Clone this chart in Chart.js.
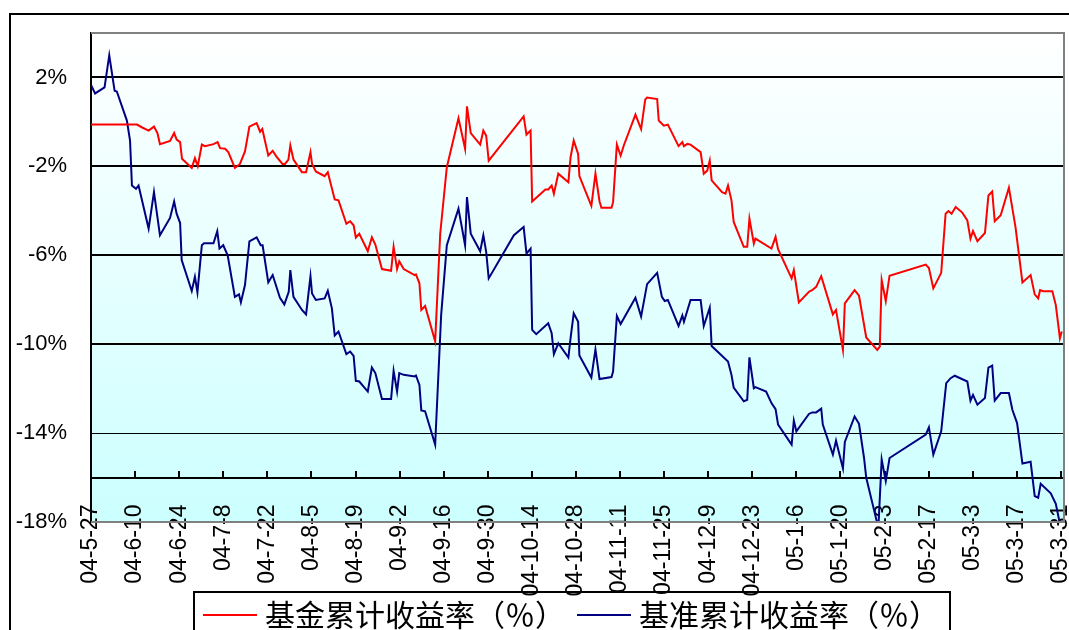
<!DOCTYPE html>
<html>
<head>
<meta charset="utf-8">
<script src="https://cdn.jsdelivr.net/npm/chart.js@4/dist/chart.umd.min.js"></script>
<style>
  body { margin: 0; background: #fff; }
</style>
</head>
<body>
<canvas id="myLineChart" width="1069" height="630"></canvas>
<script>

// x axis: days counted from 2004-05-27, one label every 14 days
const tickDays = [0, 14, 28, 42, 56, 70, 84, 98, 112, 126, 140, 154, 168, 182, 196, 210, 224, 238, 252, 266, 280, 294, 308];
const tickLabels = ['04-5-27', '04-6-10', '04-6-24', '04-7-8', '04-7-22', '04-8-5', '04-8-19', '04-9-2', '04-9-16', '04-9-30',
    '04-10-14', '04-10-28', '04-11-11', '04-11-25', '04-12-9', '04-12-23', '05-1-6', '05-1-20', '05-2-3', '05-2-17',
    '05-3-3', '05-3-17', '05-3-31'];

const yTicks = [-18, -14, -10, -6, -2, 2];

const seriesNames = ['基金累计收益率（％）', '基准累计收益率（％）'];
const seriesColors = ['#ff0000', '#000080'];

// 基金累计收益率
const fundDays = [0, 14.6, 16.1, 18.3, 20.0, 21.1, 21.9, 25.1, 26.4, 27.2, 28.3, 28.9, 32.0, 33.0, 33.9, 35.2, 36.2, 38.9, 40.2, 41.0,
    42.6, 43.6, 45.7, 47.3, 48.9, 50.3, 52.6, 53.7, 54.4, 56.3, 57.7, 58.9, 60.8, 61.6, 62.7, 63.3, 64.3, 67.0, 68.3, 69.7,
    70.2, 71.4, 74.2, 75.2, 77.4, 78.6, 81.1, 82.3, 83.4, 84.1, 85.2, 87.9, 89.2, 90.3, 92.4, 95.3, 96.1, 97.2, 97.9, 99.3,
    102.8, 103.2, 104.3, 104.9, 106.1, 109.3, 110.9, 113.0, 116.7, 118.8, 119.4, 120.6, 123.6, 124.6, 125.5, 126.3, 137.4, 138.3, 139.6, 140.1,
    144.3, 145.2, 146.3, 147.0, 148.4, 151.6, 152.3, 153.3, 154.7, 155.1, 158.9, 160.2, 161.5, 162.1, 165.3, 165.8, 167.0, 168.2, 169.2, 172.9,
    174.7, 176.0, 176.6, 179.8, 180.3, 181.9, 183.2, 186.6, 187.8, 188.3, 189.4, 190.4, 193.6, 194.6, 195.7, 196.5, 197.1, 200.4, 201.5, 202.3,
    203.4, 204.1, 207.3, 208.4, 209.1, 210.5, 211.0, 216.1, 217.4, 218.2, 222.5, 223.2, 224.8, 228.0, 229.0, 230.3, 231.9, 235.6, 236.6, 238.8,
    239.4, 242.5, 243.9, 246.2, 249.7, 250.5, 251.1, 252.4, 253.6, 265.1, 266.1, 267.5, 270.0, 271.4, 272.3, 273.3, 274.6, 276.7, 278.3, 279.3,
    280.1, 281.5, 283.9, 285.0, 286.2, 287.0, 288.9, 291.5, 293.6, 295.8, 298.4, 299.7, 300.8, 301.4, 302.4, 305.3, 306.4, 307.7, 308.3];
const fundValues = [-0.12, -0.12, -0.24, -0.39, -0.21, -0.50, -1.00, -0.86, -0.50, -0.80, -0.91, -1.66, -2.07, -1.63, -1.99, -1.02, -1.09, -1.00, -0.91, -1.18,
    -1.21, -1.36, -2.07, -1.89, -1.33, -0.21, -0.05, -0.44, -0.32, -1.51, -1.30, -1.56, -1.89, -1.89, -1.70, -1.06, -1.69, -2.26, -2.26, -1.36,
    -1.89, -2.23, -2.44, -2.26, -3.49, -3.53, -4.58, -4.47, -4.65, -5.20, -5.03, -5.82, -5.19, -5.52, -6.62, -6.70, -5.62, -6.62, -6.27, -6.62,
    -6.89, -6.86, -7.26, -8.46, -8.28, -9.87, -5.03, -2.04, 0.16, -1.21, 0.70, -0.50, -1.02, -0.39, -0.62, -1.74, 0.25, -0.57, -0.39, -3.58,
    -3.04, -3.04, -2.86, -3.23, -2.33, -2.71, -1.59, -0.84, -1.44, -2.44, -3.78, -2.33, -3.58, -3.86, -3.86, -3.61, -1.02, -1.51, -1.06, 0.33,
    -0.32, 1.00, 1.10, 1.03, 0.06, -0.17, -0.12, -1.09, -0.91, -1.09, -0.99, -1.02, -1.36, -2.33, -2.19, -1.74, -2.63, -3.16, -3.23, -2.86,
    -3.53, -4.50, -5.62, -5.62, -4.35, -5.47, -5.25, -5.70, -5.17, -5.73, -7.04, -6.67, -8.12, -7.64, -7.57, -7.42, -6.94, -8.66, -8.46, -10.26,
    -8.16, -7.57, -7.82, -9.70, -10.26, -10.11, -7.12, -8.06, -6.92, -6.42, -6.57, -7.49, -6.79, -4.13, -4.01, -4.13, -3.83, -4.08, -4.43, -5.25,
    -4.91, -5.37, -5.00, -3.31, -3.13, -4.47, -4.20, -2.96, -4.73, -7.22, -6.89, -7.76, -7.94, -7.57, -7.62, -7.62, -8.24, -9.73, -9.43];

// 基准累计收益率
const benchDays = [0, 1.3, 4.3, 5.8, 7.5, 8.2, 11.4, 12.4, 13.0, 14.3, 15.1, 18.3, 20.0, 21.9, 25.1, 26.4, 27.2, 28.3, 28.8, 32.0,
    33.0, 33.8, 35.2, 35.9, 38.9, 40.1, 40.8, 42.0, 43.4, 45.7, 47.0, 47.6, 48.9, 50.3, 52.6, 53.9, 54.5, 56.3, 57.7, 60.0,
    61.4, 62.8, 63.3, 64.3, 67.0, 68.3, 69.7, 70.2, 71.4, 74.2, 75.2, 76.5, 77.4, 78.6, 81.1, 82.3, 83.4, 84.1, 85.2, 87.9,
    89.2, 90.3, 92.4, 95.3, 96.1, 97.2, 97.9, 99.3, 102.8, 103.2, 104.3, 104.9, 106.1, 109.3, 111.2, 113.0, 116.7, 118.8, 119.4, 120.6,
    123.6, 124.6, 125.5, 126.3, 134.3, 137.4, 138.3, 139.6, 140.1, 141.4, 145.2, 146.3, 147.0, 148.4, 151.6, 152.3, 153.3, 154.7, 155.1, 158.9,
    160.2, 161.5, 165.3, 165.8, 167.0, 168.2, 172.9, 174.7, 176.6, 179.8, 181.3, 182.2, 183.2, 186.6, 187.8, 188.3, 190.4, 193.6, 194.6, 196.5,
    197.1, 202.3, 203.4, 204.1, 207.3, 208.4, 209.1, 210.5, 211.0, 214.4, 216.1, 217.4, 218.2, 222.5, 223.2, 224.0, 228.0, 229.0, 230.3, 231.9,
    232.4, 235.6, 236.6, 238.8, 239.4, 242.5, 243.9, 245.5, 246.2, 249.5, 250.0, 251.1, 252.4, 253.6, 265.1, 266.1, 267.5, 270.0, 271.6, 273.0,
    274.3, 278.3, 279.3, 280.1, 281.5, 283.9, 285.0, 286.2, 287.0, 288.9, 291.5, 292.6, 294.1, 295.8, 298.4, 299.7, 300.8, 301.6, 304.8, 306.4,
    308.3];
const benchValues = [1.66, 1.28, 1.55, 3.00, 1.40, 1.37, 0.06, -0.84, -2.86, -3.01, -2.86, -4.80, -3.16, -5.10, -4.32, -3.58, -4.13, -4.55, -6.22, -7.61,
    -6.97, -7.67, -5.55, -5.46, -5.46, -4.92, -5.70, -5.55, -6.00, -7.87, -7.76, -8.12, -7.34, -5.37, -5.19, -5.55, -5.55, -7.22, -6.89, -7.91,
    -8.21, -7.64, -6.67, -7.87, -8.46, -8.66, -6.94, -7.72, -8.01, -7.94, -7.60, -8.39, -9.61, -9.43, -10.45, -10.33, -10.53, -11.65, -11.68, -12.13,
    -11.05, -11.30, -12.47, -12.47, -11.20, -12.13, -11.30, -11.38, -11.45, -11.41, -11.83, -12.98, -13.02, -14.52, -8.69, -5.55, -3.90, -5.55, -3.38, -5.03,
    -5.82, -5.10, -5.85, -7.04, -5.10, -4.73, -5.92, -5.70, -9.36, -9.55, -9.06, -9.51, -10.45, -9.96, -10.60, -9.73, -8.61, -8.99, -10.51, -11.50,
    -10.23, -11.57, -11.48, -11.23, -8.73, -9.09, -7.91, -8.76, -7.30, -6.79, -7.87, -8.06, -8.01, -9.18, -8.71, -8.99, -8.01, -8.01, -9.18, -8.36,
    -10.08, -10.78, -11.38, -11.95, -12.57, -12.50, -10.59, -11.98, -11.93, -12.13, -12.65, -12.92, -13.62, -14.52, -13.44, -13.92, -13.14, -13.07, -13.07, -12.90,
    -13.62, -14.97, -14.34, -15.59, -14.40, -13.25, -13.58, -15.12, -16.01, -17.95, -18.40, -15.19, -16.16, -15.12, -14.07, -13.74, -14.97, -13.92, -11.75, -11.53,
    -11.42, -11.68, -12.54, -12.28, -12.72, -12.42, -11.05, -10.96, -12.54, -12.20, -12.20, -12.95, -13.55, -15.37, -15.29, -16.83, -16.91, -16.28, -16.71, -17.18,
    -18.50];


function toPoints(days, values) {
    return days.map((d, i) => ({ x: d, y: values[i] }));
}

// plot area gradient, outer frame, plot border and the boxed legend
const framePlugin = {
    id: 'frame',
    beforeDraw(chart) {
        const ctx = chart.ctx;
        const a = chart.chartArea;
        const grad = ctx.createLinearGradient(0, a.top, 0, a.bottom);
        grad.addColorStop(0, '#ffffff');
        grad.addColorStop(1, '#ccffff');
        ctx.save();
        ctx.fillStyle = grad;
        ctx.fillRect(a.left, a.top, a.right - a.left, a.bottom - a.top);
        ctx.restore();
    },
    afterDatasetsDraw(chart) {
        const ctx = chart.ctx;
        const a = chart.chartArea;
        ctx.save();
        ctx.strokeStyle = '#808080';
        ctx.lineWidth = 2;
        ctx.beginPath();
        ctx.moveTo(a.left, a.top);
        ctx.lineTo(a.right, a.top);
        ctx.lineTo(a.right, a.bottom);
        ctx.lineTo(a.left, a.bottom);
        ctx.stroke();
        ctx.restore();
    },
    afterDraw(chart) {
        const ctx = chart.ctx;
        ctx.save();
        ctx.strokeStyle = '#000';
        ctx.lineWidth = 2;
        ctx.strokeRect(10, 14, 2000, 2000);

        // legend
        ctx.strokeRect(194, 592, 756, 100);
        const starts = [203, 577];
        ctx.font = '30px "Noto Sans CJK SC"';
        ctx.textBaseline = 'middle';
        ctx.textAlign = 'left';
        chart.data.datasets.forEach((ds, i) => {
            const x = starts[i];
            ctx.strokeStyle = ds.borderColor;
            ctx.lineWidth = 2;
            ctx.beginPath();
            ctx.moveTo(x, 615);
            ctx.lineTo(x + 54, 615);
            ctx.stroke();
            ctx.fillStyle = '#000';
            ctx.fillText(ds.label, x + 62, 615);
        });
        ctx.restore();
    }
};

function renderChart() {
    const data = {
        datasets: [{
            label: seriesNames[0],
            data: toPoints(fundDays, fundValues),
            borderColor: seriesColors[0],
            borderWidth: 2,
            pointRadius: 0,
            tension: 0,
            fill: false
        }, {
            label: seriesNames[1],
            data: toPoints(benchDays, benchValues),
            borderColor: seriesColors[1],
            borderWidth: 2,
            pointRadius: 0,
            tension: 0,
            fill: false
        }]
    };

    const config = {
        type: 'line',
        data: data,
        options: {
            responsive: false,
            animation: false,
            layout: {
                padding: { left: 0, top: 33, right: 5, bottom: 108 }
            },
            plugins: {
                legend: { display: false },
                tooltip: { enabled: false }
            },
            scales: {
                x: {
                    type: 'linear',
                    position: { y: -16 },
                    min: 0,
                    max: 309,
                    afterBuildTicks: (axis) => {
                        axis.ticks = tickDays.map(d => ({ value: d }));
                    },
                    afterFit: (axis) => {
                        // labels are placed by hand, keep them from shrinking the plot
                        axis.paddingLeft = 0;
                        axis.paddingRight = 0;
                        axis.paddingTop = 0;
                        axis.paddingBottom = 0;
                    },
                    ticks: {
                        autoSkip: false,
                        minRotation: 90,
                        maxRotation: 90,
                        padding: 35,
                        color: '#000',
                        font: { family: 'Liberation Sans', size: 23 },
                        callback: (v) => tickLabels[tickDays.indexOf(v)]
                    },
                    grid: {
                        display: true,
                        drawOnChartArea: false,
                        drawTicks: true,
                        tickLength: -8,
                        color: '#000',
                        lineWidth: 2
                    },
                    border: { display: true, color: '#000', width: 2 }
                },
                y: {
                    position: 'left',
                    min: -18,
                    max: 4,
                    afterBuildTicks: (axis) => {
                        axis.ticks = yTicks.map(v => ({ value: v }));
                    },
                    afterFit: (axis) => {
                        axis.width = 91;
                        axis.paddingTop = 0;
                        axis.paddingBottom = 0;
                    },
                    ticks: {
                        padding: 24,
                        color: '#000',
                        font: { family: 'Liberation Sans', size: 22 },
                        callback: (v) => v + '%'
                    },
                    grid: {
                        drawTicks: false,
                        color: (c) => c.tick && c.tick.value === -18 ? '#808080' : '#000',
                        lineWidth: (c) => c.tick && c.tick.value === -14 ? 1 : 2
                    },
                    border: { display: true, color: '#000', width: 2 }
                }
            }
        },
        plugins: [framePlugin]
    };

    new Chart(document.getElementById('myLineChart'), config);
}

renderChart();
</script>
</body>
</html>
